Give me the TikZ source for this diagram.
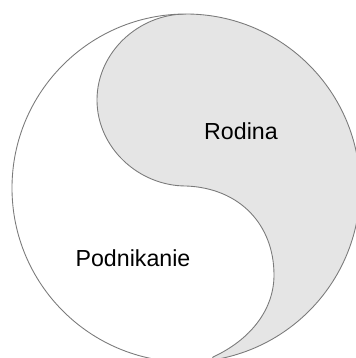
\documentclass[tikz,border=0pt]{standalone}
\usepackage{fontspec}
\setmainfont{Liberation Sans}
\definecolor{rimgray}{HTML}{7A7A7A}
\definecolor{lobegray}{HTML}{E5E5E5}

\begin{document}
\begin{tikzpicture}[rim/.style={rimgray, line width=0.75pt}, lbl/.style={anchor=base, font=\fontsize{19.8}{24}\selectfont}]
\useasboundingbox (-5.58, -5.10) rectangle (5.07, 5.64);
\begin{scope}
\clip (0, 0) circle (5.22);
\fill[lobegray] (0, 5.22) .. controls (-1.425, 5.22) and (-2.67, 4.065) .. (-2.67, 2.64)
  .. controls (-2.67, 1.215) and (-1.425, 0.06) .. (0, 0.06)
  .. controls (1.62, 0) and (2.64, -1.11) .. (2.64, -2.61)
  .. controls (2.64, -3.66) and (1.92, -4.56) .. (0.81, -5.07)
  -- (0.5, -6) -- (6, -6) -- (6, 6) -- (0, 6) -- cycle;
\draw[rim] (0, 5.22) .. controls (-1.425, 5.22) and (-2.67, 4.065) .. (-2.67, 2.64)
  .. controls (-2.67, 1.215) and (-1.425, 0.06) .. (0, 0.06)
  .. controls (1.62, 0) and (2.64, -1.11) .. (2.64, -2.61)
  .. controls (2.64, -3.66) and (1.92, -4.56) .. (0.81, -5.07)
  -- (0.5, -6);
\end{scope}
\draw[rim] (0, 0) circle (5.22);
\node[lbl] (rodina) at (1.65, 1.46) {Rodina};
\node[lbl] (podnikanie) at (-1.59, -2.36) {Podnikanie};
\end{tikzpicture}
\end{document}
